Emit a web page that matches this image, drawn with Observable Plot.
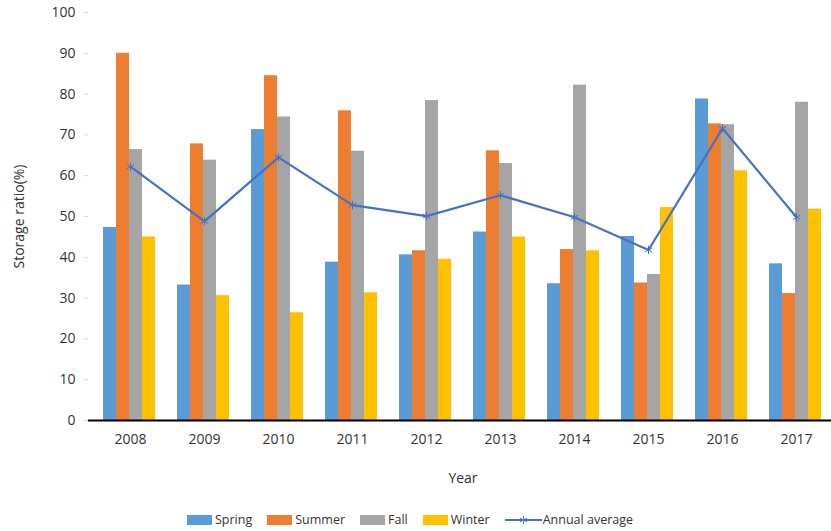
<!DOCTYPE html>
<html>
<head>
<meta charset="utf-8">
<script src="https://cdn.jsdelivr.net/npm/d3@7"></script>
<script src="https://cdn.jsdelivr.net/npm/@observablehq/plot@0.6"></script>
<style>
  html, body { margin: 0; padding: 0; background: #fff; overflow: hidden; }
  #wrap { position: relative; width: 831px; height: 531px; overflow: hidden; font-family: "Open Sans", sans-serif; }
  #bars, #overlay { position: absolute; left: 0; top: 0; width: 837px; height: 490px; }
  #wrap svg { max-width: none !important; }
  #legend { position: absolute; left: 0; top: 511px; width: 820px; display: flex; justify-content: center; align-items: center; gap: 15px; font-size: 12.5px; color: #333; }
  .item { display: flex; align-items: center; gap: 3px; }
  .sw { width: 25px; height: 10px; display: inline-block; }
</style>
</head>
<body>
<div id="wrap">
  <div id="bars"></div>
  <div id="overlay"></div>
  <div id="legend"></div>
</div>
<script>
const years = ["2008","2009","2010","2011","2012","2013","2014","2015","2016","2017"];
const seasons = ["Spring","Summer","Fall","Winter"];
const spring = [47.3, 33.2, 71.3, 38.8, 40.6, 46.2, 33.5, 45.1, 78.8, 38.4];
const summer = [90.0, 67.8, 84.5, 75.9, 41.6, 66.1, 41.9, 33.7, 72.7, 31.1];
const fall   = [66.4, 63.8, 74.4, 66.0, 78.4, 63.0, 82.2, 35.8, 72.5, 78.0];
const winter = [45.0, 30.6, 26.4, 31.3, 39.5, 45.0, 41.6, 52.2, 61.2, 51.8];
const annualAverage = [62.2, 48.8, 64.5, 52.8, 50.1, 55.2, 49.8, 41.8, 71.6, 49.8];
const seasonColors = ["#5B9BD5", "#ED7D31", "#A5A5A5", "#FFC000"];
const lineColor = "#4472C4";
const yTicks = [0, 10, 20, 30, 40, 50, 60, 70, 80, 90, 100];

const seriesValues = [spring, summer, fall, winter];
const rows = [];
years.forEach((yr, i) => seasons.forEach((s, j) => rows.push({year: yr, season: s, value: seriesValues[j][i]})));
const avgRows = years.map((yr, i) => ({year: yr, value: annualAverage[i]}));

const W = 837, H = 490;
const common = {width: W, height: H, marginTop: 12, marginBottom: 70, marginLeft: 88, marginRight: 0};

const bars = Plot.plot({
  ...common,
  style: {background: "transparent", maxWidth: "none"},
  fx: {domain: years, paddingInner: 0.267, paddingOuter: 0.133, axis: null, label: null},
  x: {domain: seasons, padding: 0, axis: null},
  y: {domain: [0, 100], axis: null},
  color: {domain: seasons, range: seasonColors},
  marks: [
    Plot.barY(rows, {fx: "year", x: "season", y: "value", fill: "season"})
  ]
});
document.getElementById("bars").appendChild(bars);

const overlay = Plot.plot({
  ...common,
  style: {background: "transparent", maxWidth: "none", fontFamily: "Open Sans, sans-serif", fontSize: "14px", color: "#333"},
  x: {domain: years, type: "point", padding: 0.5, label: null},
  y: {domain: [0, 100]},
  marks: [
    Plot.axisY({ticks: yTicks, tickSize: 4, tickPadding: 9, line: true, stroke: "#d9d9d9", fill: "#333", fontSize: 14,
      label: "Storage ratio(%)", labelAnchor: "center", labelArrow: "none", labelOffset: 74}),
    Plot.axisX({tickSize: 0, tickPadding: 14, fill: "#333", fontSize: 14,
      label: "Year", labelAnchor: "center", labelArrow: "none", labelOffset: 62}),
    Plot.ruleY([0], {stroke: "#000", strokeWidth: 2}),
    Plot.line(avgRows, {x: "year", y: "value", stroke: lineColor, strokeWidth: 2.2}),
    Plot.dot(avgRows, {x: "year", y: "value", symbol: "asterisk", r: 4, stroke: lineColor, strokeWidth: 1})
  ]
});
document.getElementById("overlay").appendChild(overlay);

const legend = document.getElementById("legend");
seasons.forEach((s, i) => {
  const it = document.createElement("div");
  it.className = "item";
  it.innerHTML = `<span class="sw" style="background:${seasonColors[i]}"></span><span>${s}</span>`;
  legend.appendChild(it);
});
const li = document.createElement("div");
li.className = "item";
li.style.gap = "1px";
li.innerHTML = `<svg width="37" height="12"><line x1="0" y1="6" x2="37" y2="6" stroke="${lineColor}" stroke-width="2"/>` +
  `<g stroke="${lineColor}" stroke-width="1"><line x1="18.5" y1="2" x2="18.5" y2="10"/><line x1="15" y1="4" x2="22" y2="8"/><line x1="15" y1="8" x2="22" y2="4"/></g></svg><span>Annual average</span>`;
legend.appendChild(li);
</script>
</body>
</html>
